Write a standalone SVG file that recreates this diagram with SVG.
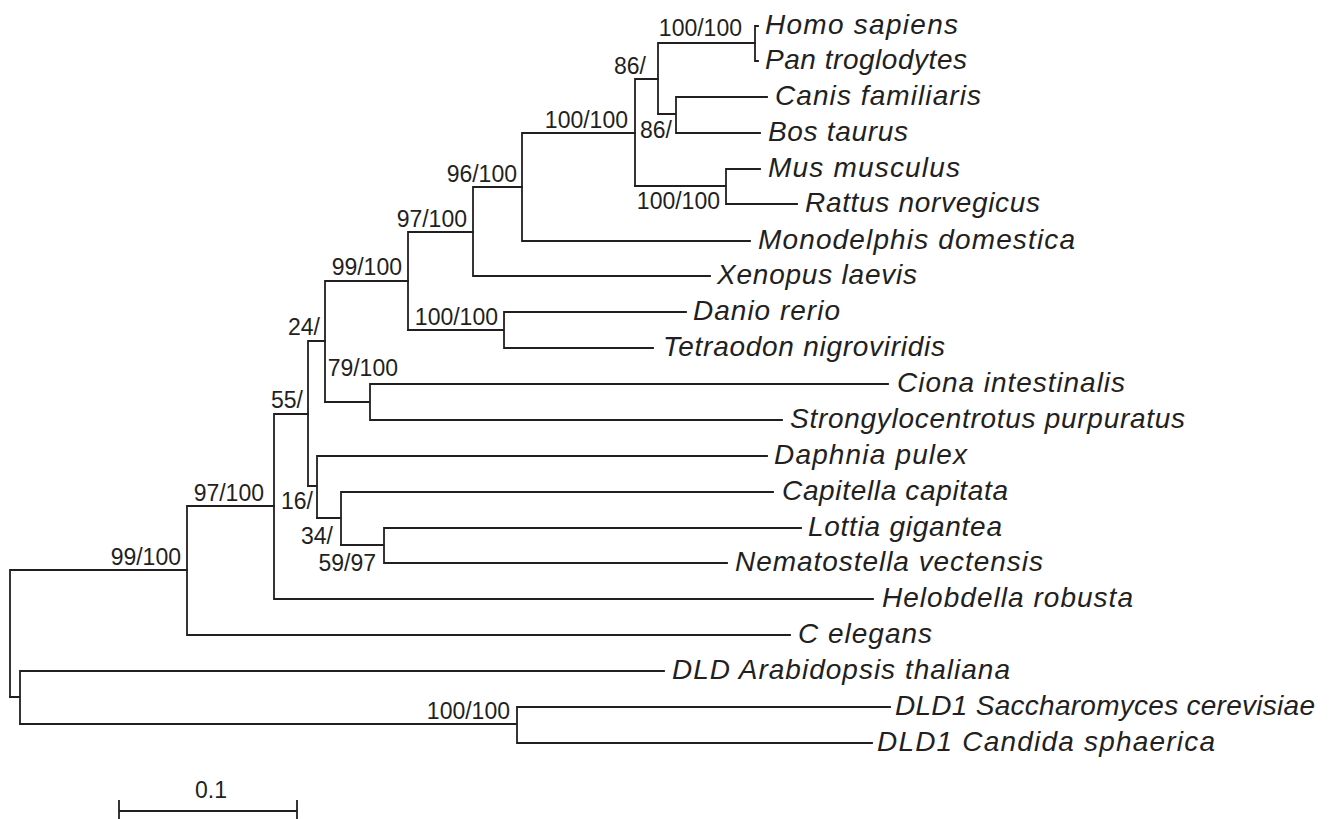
<svg xmlns="http://www.w3.org/2000/svg" width="1333" height="819" viewBox="0 0 1333 819">
<style>
.br{fill:none;stroke:#231f20;stroke-width:1.8;stroke-linecap:square}
.tx{font-family:"Liberation Sans",Arial,sans-serif;font-style:italic;font-size:28px;fill:#231f20}
.bs{font-family:"Liberation Sans",Arial,sans-serif;font-size:23px;fill:#231f20;text-anchor:end}
</style>
<rect width="1333" height="819" fill="#fff"/>
<g id="connectors" class="br">
<path d="M755,26V61M755,26H758M755,61H758"/>
<path d="M658,43V114M658,43H755"/>
<path d="M676,97V133M658,114H676M676,97H767M676,133H760"/>
<path d="M635,79V186M635,79H658"/>
<path d="M726,169V204M635,186H726M726,169H760M726,204H797"/>
<path d="M522,133V241M522,133H635M522,241H750"/>
<path d="M473,187V276M473,187H522M473,276H710"/>
<path d="M408,232V330M408,232H473"/>
<path d="M504,312V348M408,330H504M504,312H686M504,348H653"/>
<path d="M325,281V402M325,281H408"/>
<path d="M370,384V420M325,402H370M370,384H888M370,420H782"/>
<path d="M308,341V486M308,341H325"/>
<path d="M317,456V518M308,486H317M317,456H767"/>
<path d="M341,492V545M317,518H341M341,492H773"/>
<path d="M384,528V563M341,545H384M384,528H801M384,563H727"/>
<path d="M274,414V599M274,414H308M274,599H873"/>
<path d="M187,506V635M187,506H274M187,635H790"/>
<path d="M10,570V697M10,570H187"/>
<path d="M20,671V724M10,697H20M20,671H664"/>
<path d="M517,707V743M20,724H517M517,707H890M517,743H872"/>
</g>
<g id="leaves">
<g id="n-homo"><text class="tx" x="765" y="34" textLength="193" lengthAdjust="spacing">Homo sapiens</text></g>
<g id="n-pan"><text class="tx" x="765" y="69" textLength="202" lengthAdjust="spacing">Pan troglodytes</text></g>
<g id="n-canis"><text class="tx" x="775" y="105" textLength="206" lengthAdjust="spacing">Canis familiaris</text></g>
<g id="n-bos"><text class="tx" x="768" y="141" textLength="140" lengthAdjust="spacing">Bos taurus</text></g>
<g id="n-mus"><text class="tx" x="768" y="177" textLength="192" lengthAdjust="spacing">Mus musculus</text></g>
<g id="n-rattus"><text class="tx" x="805" y="212" textLength="235" lengthAdjust="spacing">Rattus norvegicus</text></g>
<g id="n-mono"><text class="tx" x="758" y="249" textLength="317" lengthAdjust="spacing">Monodelphis domestica</text></g>
<g id="n-xenopus"><text class="tx" x="717" y="284" textLength="200" lengthAdjust="spacing">Xenopus laevis</text></g>
<g id="n-danio"><text class="tx" x="693" y="320" textLength="147" lengthAdjust="spacing">Danio rerio</text></g>
<g id="n-tetra"><text class="tx" x="663" y="356" textLength="282" lengthAdjust="spacing">Tetraodon nigroviridis</text></g>
<g id="n-ciona"><text class="tx" x="897" y="392" textLength="228" lengthAdjust="spacing">Ciona intestinalis</text></g>
<g id="n-strongy"><text class="tx" x="790" y="428" textLength="395" lengthAdjust="spacing">Strongylocentrotus purpuratus</text></g>
<g id="n-daphnia"><text class="tx" x="774" y="464" textLength="193" lengthAdjust="spacing">Daphnia pulex</text></g>
<g id="n-capitella"><text class="tx" x="782" y="500" textLength="226" lengthAdjust="spacing">Capitella capitata</text></g>
<g id="n-lottia"><text class="tx" x="808" y="536" textLength="194" lengthAdjust="spacing">Lottia gigantea</text></g>
<g id="n-nemato"><text class="tx" x="735" y="571" textLength="308" lengthAdjust="spacing">Nematostella vectensis</text></g>
<g id="n-helob"><text class="tx" x="882" y="607" textLength="251" lengthAdjust="spacing">Helobdella robusta</text></g>
<g id="n-celegans"><text class="tx" x="798" y="643" textLength="134" lengthAdjust="spacing">C elegans</text></g>
<g id="n-arab"><text class="tx" x="672" y="679" textLength="338" lengthAdjust="spacing">DLD Arabidopsis thaliana</text></g>
<g id="n-sacch"><text class="tx" x="895" y="715" textLength="420" lengthAdjust="spacing">DLD1 Saccharomyces cerevisiae</text></g>
<g id="n-candida"><text class="tx" x="877" y="751" textLength="338" lengthAdjust="spacing">DLD1 Candida sphaerica</text></g>
</g>
<g id="supports">
<text class="bs" x="742" y="36">100/100</text>
<text class="bs" x="646" y="74">86/</text>
<text class="bs" x="672" y="138">86/</text>
<text class="bs" x="628" y="128">100/100</text>
<text class="bs" x="720" y="209">100/100</text>
<text class="bs" x="517" y="182">96/100</text>
<text class="bs" x="467" y="227">97/100</text>
<text class="bs" x="402" y="275">99/100</text>
<text class="bs" x="498" y="325">100/100</text>
<text class="bs" x="320" y="335">24/</text>
<text class="bs" x="398" y="376">79/100</text>
<text class="bs" x="303" y="408">55/</text>
<text class="bs" x="264" y="501">97/100</text>
<text class="bs" x="313" y="509">16/</text>
<text class="bs" x="333" y="544">34/</text>
<text class="bs" x="376" y="571">59/97</text>
<text class="bs" x="181" y="565">99/100</text>
<text class="bs" x="510" y="719">100/100</text>
</g>
<g id="scale">
<path class="br" d="M119,811H297M119,801V819M297,801V819"/>
<text class="bs" x="211" y="798" style="text-anchor:middle">0.1</text>
</g>
</svg>
